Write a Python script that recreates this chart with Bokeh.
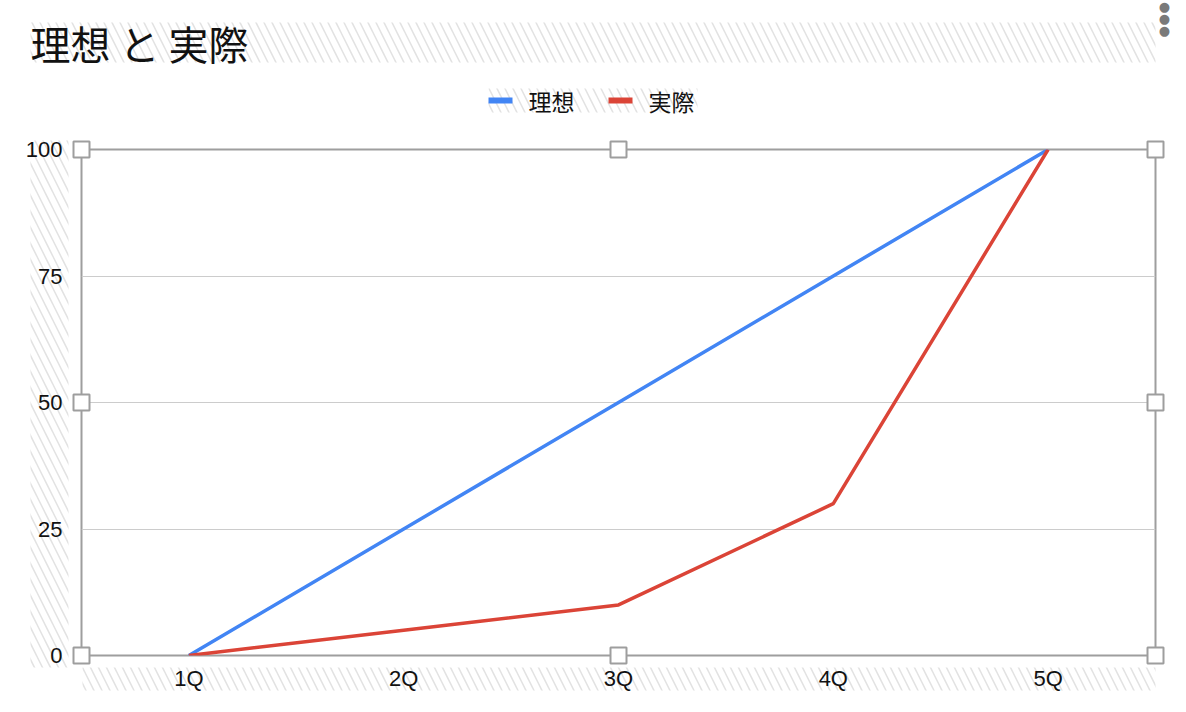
from bokeh.plotting import figure
from bokeh.models import ColumnDataSource, Range1d, FixedTicker
from bokeh.core.properties import value
from bokeh.embed import file_html
from bokeh.resources import INLINE

# ---- data ----
quarters = ["1Q", "2Q", "3Q", "4Q", "5Q"]
ideal = [0, 25, 50, 75, 100]
actual = [0, 5, 10, 30, 100]
y_ticks = [0, 25, 50, 75, 100]
title_text = "理想 と 実際"
series_names = ["理想", "実際"]
series_colors = ["#4285f4", "#db4437"]

xs = list(range(len(quarters)))

# ---- layout (canvas pixels) ----
W, H = 1170, 696
FL, FT = 81, 149          # frame left / top
FW, FH = 1074, 506        # frame size
TEXT = "#111111"
p = figure(width=W, height=H, output_backend="svg", toolbar_location=None,
           x_range=Range1d(-0.5, len(quarters) - 0.5),
           y_range=Range1d(0, 100),
           min_border_left=FL, min_border_top=FT,
           min_border_right=W - FL - FW, min_border_bottom=H - FT - FH)
p.title.visible = False
p.background_fill_color = "white"
p.border_fill_color = "white"
p.outline_line_color = "#9e9e9e"
p.outline_line_width = 2

# pixel ranges for decorations (frame-relative pixels, y up)
p.extra_x_ranges = {"px": Range1d(0, FW)}
p.extra_y_ranges = {"py": Range1d(0, FH)}

def cx(X):
    return X - FL

def cy(Y):
    return FT + FH - Y

src = ColumnDataSource(dict(x=xs, ideal=ideal, actual=actual))
r1 = p.line("x", "ideal", source=src, line_color=series_colors[0], line_width=3.5)
r2 = p.line("x", "actual", source=src, line_color=series_colors[1], line_width=3.5)

# axes
label_font = "Liberation Sans"
for ax in (p.xaxis, p.yaxis):
    ax.axis_line_color = None
    ax.major_tick_line_color = None
    ax.minor_tick_line_color = None
    ax.major_label_text_font = label_font
    ax.major_label_text_font_size = "22px"
    ax.major_label_text_color = TEXT
    ax.level = "overlay"
p.xaxis.ticker = FixedTicker(ticks=xs)
p.xaxis.major_label_overrides = {i: q for i, q in zip(xs, quarters)}
p.yaxis.ticker = FixedTicker(ticks=y_ticks)
p.yaxis.major_label_standoff = 13
p.xaxis.major_label_standoff = 4

p.xgrid.grid_line_color = None
p.ygrid.ticker = FixedTicker(ticks=y_ticks)
p.ygrid.grid_line_color = "#cccccc"
p.ygrid.grid_line_width = 1

# hatched areas behind title, legend and axis labels (canvas px: x0, x1, y0, y1)
hatch_areas = [(30, 1155, 22, 62), (488, 697, 88, 112),
               (30, 68, 140, 667), (82, 1155, 667, 690)]
p.quad(left=[cx(a[0]) for a in hatch_areas], right=[cx(a[1]) for a in hatch_areas],
       top=[cy(a[2]) for a in hatch_areas], bottom=[cy(a[3]) for a in hatch_areas],
       x_range_name="px", y_range_name="py", level="guide",
       fill_alpha=0, line_alpha=0, hatch_pattern="\\", hatch_color="#e2e2e2",
       hatch_scale=16, hatch_weight=1.5)

# title
p.text(x=[cx(30)], y=[cy(42)], text=[title_text], x_range_name="px", y_range_name="py",
       level="overlay", text_font=value("Noto Sans CJK JP"), text_font_size="40px",
       text_color=TEXT, text_baseline="middle", text_align="left")

# legend (swatch + label per series)
sw_left = [488, 608]
p.quad(left=[cx(v) for v in sw_left], right=[cx(v + 24) for v in sw_left],
       top=[cy(97)] * 2, bottom=[cy(103)] * 2, fill_color=series_colors,
       line_color=None, x_range_name="px", y_range_name="py", level="overlay")
p.text(x=[cx(v + 40) for v in sw_left], y=[cy(100)] * 2, text=series_names,
       x_range_name="px", y_range_name="py", level="overlay",
       text_font=value("Noto Sans CJK JP"), text_font_size="23px",
       text_color=TEXT, text_baseline="middle", text_align="left")

# selection handles at frame corners and edge midpoints
hx, hy = [], []
for fx in (0, FW / 2, FW):
    for fy in (0, FH / 2, FH):
        if fx == FW / 2 and fy == FH / 2:
            continue
        hx.append(fx)
        hy.append(fy)
p.scatter(hx, hy, marker="square", size=16, x_range_name="px", y_range_name="py",
          level="overlay", fill_color="white", line_color="#9e9e9e", line_width=2)

# menu dots (top right)
p.text(x=[cx(1164)] * 3, y=[cy(6), cy(18), cy(30)], text=["●"] * 3,
       x_range_name="px", y_range_name="py", level="overlay",
       text_font=value("DejaVu Sans"), text_font_size="13px",
       text_color="#7a7a7a", text_baseline="middle", text_align="center")

open("out.html", "w").write(file_html(p, INLINE))
